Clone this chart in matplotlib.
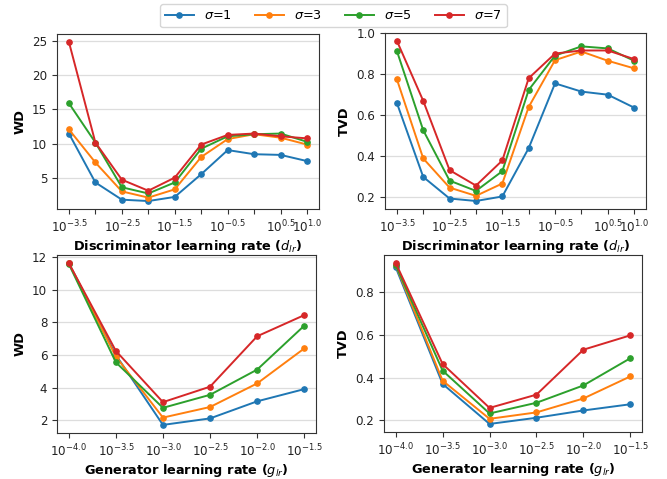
import matplotlib
matplotlib.use("Agg")
import matplotlib.pyplot as plt

sigma_labels = [r"$\sigma$=1", r"$\sigma$=3", r"$\sigma$=5", r"$\sigma$=7"]
colors = ["#1f77b4", "#ff7f0e", "#2ca02c", "#d62728"]

# Discriminator learning rate exponents
d_exp = [-3.5, -3.0, -2.5, -2.0, -1.5, -1.0, -0.5, 0.0, 0.5, 1.0]
d_ticklabels = [r"$10^{-3.5}$", "", r"$10^{-2.5}$", "", r"$10^{-1.5}$", "",
                r"$10^{-0.5}$", "", r"$10^{0.5}$", r"$10^{1.0}$"]
d_wd = [
    [11.5, 4.4, 1.9, 1.7, 2.3, 5.6, 9.1, 8.5, 8.4, 7.5],
    [12.1, 7.3, 3.1, 2.2, 3.4, 8.1, 10.7, 11.4, 10.9, 9.9],
    [15.9, 10.2, 3.7, 2.8, 4.4, 9.3, 11.1, 11.4, 11.5, 10.3],
    [24.8, 10.2, 4.8, 3.2, 5.1, 9.9, 11.3, 11.5, 11.1, 10.8],
]
d_tvd = [
    [0.66, 0.30, 0.195, 0.183, 0.205, 0.44, 0.755, 0.715, 0.70, 0.637],
    [0.775, 0.39, 0.248, 0.208, 0.268, 0.64, 0.868, 0.91, 0.865, 0.828],
    [0.913, 0.527, 0.282, 0.232, 0.328, 0.723, 0.89, 0.935, 0.925, 0.865],
    [0.962, 0.67, 0.333, 0.258, 0.38, 0.78, 0.90, 0.915, 0.915, 0.873],
]

# Generator learning rate exponents
g_exp = [-4.0, -3.5, -3.0, -2.5, -2.0, -1.5]
g_ticklabels = [r"$10^{-4.0}$", r"$10^{-3.5}$", r"$10^{-3.0}$",
                r"$10^{-2.5}$", r"$10^{-2.0}$", r"$10^{-1.5}$"]
g_wd = [
    [11.65, 6.0, 1.7, 2.1, 3.15, 3.9],
    [11.65, 5.9, 2.15, 2.8, 4.25, 6.4],
    [11.6, 5.55, 2.75, 3.55, 5.1, 7.8],
    [11.65, 6.25, 3.1, 4.05, 7.15, 8.45],
]
g_tvd = [
    [0.915, 0.37, 0.183, 0.212, 0.246, 0.275],
    [0.925, 0.385, 0.207, 0.237, 0.302, 0.405],
    [0.925, 0.432, 0.232, 0.282, 0.363, 0.49],
    [0.935, 0.463, 0.258, 0.32, 0.53, 0.597],
]

W, H = 667, 479
fig = plt.figure(figsize=(W / 100, H / 100), dpi=100)

def box(l, t, r, b):
    return [l / W, 1 - b / H, (r - l) / W, (b - t) / H]

TICK_FS = 8.6
LAB_FS = 9.3

panels = [
    (box(57, 34, 319, 209), d_exp, d_ticklabels, d_wd, "WD",
     r"Discriminator learning rate ($d_{lr}$)", [5, 10, 15, 20, 25], None),
    (box(385, 33, 646, 209), d_exp, d_ticklabels, d_tvd, "TVD",
     r"Discriminator learning rate ($d_{lr}$)", [0.2, 0.4, 0.6, 0.8, 1.0], (None, 1.0)),
    (box(57, 255, 316, 433), g_exp, g_ticklabels, g_wd, "WD",
     r"Generator learning rate ($g_{lr}$)", [2, 4, 6, 8, 10, 12], None),
    (box(384, 255, 642, 432), g_exp, g_ticklabels, g_tvd, "TVD",
     r"Generator learning rate ($g_{lr}$)", [0.2, 0.4, 0.6, 0.8], None),
]

handles = None
for pos, xs, xtl, data, ylab, xlab, yt, ylim in panels:
    ax = fig.add_axes(pos)
    hs = []
    for vals, c, lab in zip(data, colors, sigma_labels):
        h, = ax.plot(xs, vals, color=c, marker="o", markersize=3.8,
                     linewidth=1.4, label=lab)
        hs.append(h)
    handles = hs
    ax.set_xticks(xs)
    ax.set_xticklabels(xtl, fontsize=TICK_FS)
    ax.set_yticks(yt)
    ax.tick_params(axis="y", labelsize=TICK_FS)
    if ylim is not None:
        ax.set_ylim(top=ylim[1])
    ax.yaxis.grid(True, color="#dddddd", linewidth=0.9)
    ax.set_axisbelow(True)
    ax.set_ylabel(ylab, fontsize=LAB_FS, fontweight="bold")
    ax.set_xlabel(xlab, fontsize=LAB_FS, fontweight="bold", labelpad=2)
    for s in ax.spines.values():
        s.set_color("#333333")
    ax.tick_params(colors="#333333", labelcolor="#222222", length=3.5)

fig.legend(handles, sigma_labels, loc="upper center", ncol=4,
           bbox_to_anchor=(0.5, 0.997), fontsize=9.3, frameon=True,
           handlelength=2.2, columnspacing=1.8, borderaxespad=0.2)

fig.savefig("out.png", dpi=100)
